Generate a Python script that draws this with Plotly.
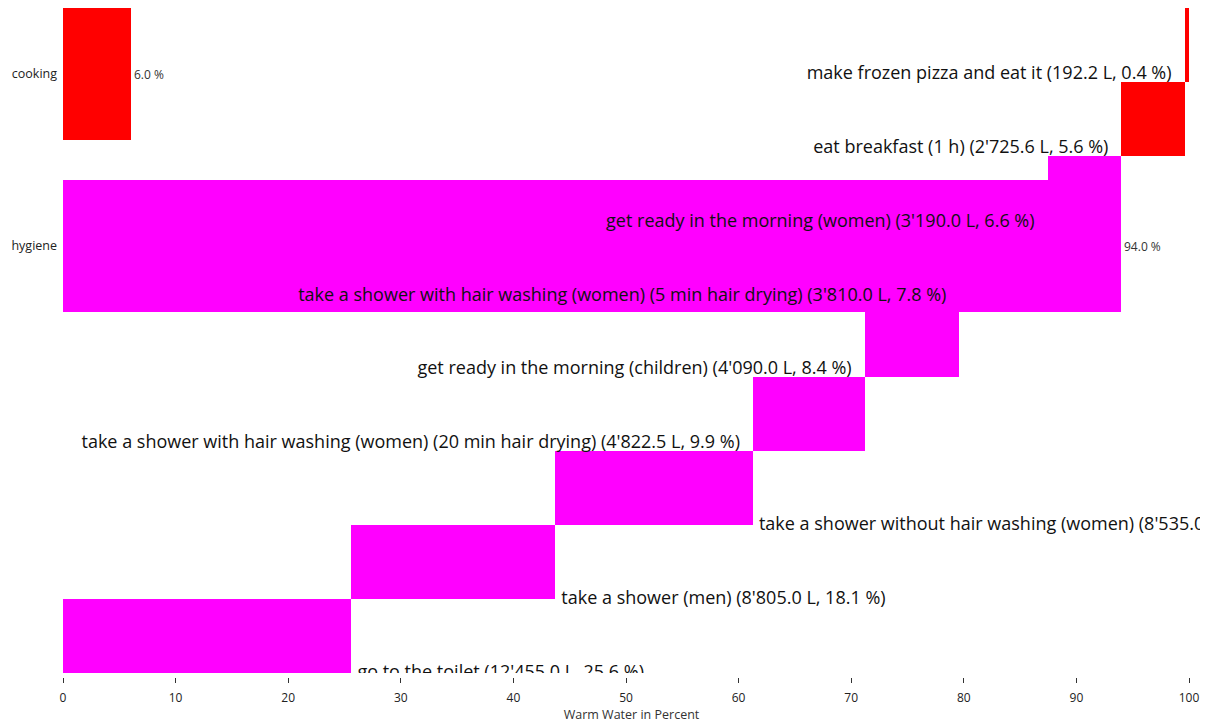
import plotly.graph_objects as go

# ---- data ----
activities = [
    "make frozen pizza and eat it",
    "eat breakfast (1 h)",
    "get ready in the morning (women)",
    "take a shower with hair washing (women) (5 min hair drying)",
    "get ready in the morning (children)",
    "take a shower with hair washing (women) (20 min hair drying)",
    "take a shower without hair washing (women)",
    "take a shower (men)",
    "go to the toilet",
]
activity_group = ["cooking", "cooking", "hygiene", "hygiene", "hygiene",
                  "hygiene", "hygiene", "hygiene", "hygiene"]
liters = [192.2, 2725.6, 3190.0, 3810.0, 4090.0, 4822.5, 8535.0, 8805.0, 12455.0]

groups = ["cooking", "hygiene"]
group_colors = {"cooking": "#ff0000", "hygiene": "#ff00ff"}

# ---- derived ----
total = sum(liters)
pct = [v / total * 100 for v in liters]
n = len(activities)
bases = [0.0] * n
acc = 0.0
for i in range(n - 1, -1, -1):
    bases[i] = acc
    acc += pct[i]
group_pct = [sum(p for p, g in zip(pct, activity_group) if g == grp) for grp in groups]


def fmt_l(v):
    s = f"{v:,.1f}"
    return s.replace(",", "'")


labels = [f"{a} ({fmt_l(v)} L, {p:.1f} %)" for a, v, p in zip(activities, liters, pct)]

FONT = "Open Sans"
# page body has an 8px margin -> figure origin sits at (8, 8) in the window
W, H = 1203, 716
mt, mb, ml, mr = 0, 31, 55, 11
plot_bottom_px = 665
paper_h = H - mt - mb
dom_bottom = (H - mb - plot_bottom_px) / paper_h
axis_pos = (H - mb - 669) / paper_h
px_per_unit = 1126.0 / 100
xmax = (W - mr - ml) / px_per_unit
row_px = (plot_bottom_px - mt) / n

fig = go.Figure()

# group bars (base axis)
fig.add_trace(go.Bar(
    y=list(range(len(groups))), x=group_pct, orientation="h",
    width=0.767,
    marker=dict(color=[group_colors[g] for g in groups], line=dict(width=0)),
    text=[f"{p:.1f} %" for p in group_pct], textposition="outside",
    textfont=dict(family=FONT, size=12, color="#333"),
    cliponaxis=False,
    xaxis="x", yaxis="y", showlegend=False, hoverinfo="skip",
))

# activity bars (overlay axis)
fig.add_trace(go.Bar(
    y=list(range(n)), x=pct, base=bases, orientation="h", width=1.0,
    marker=dict(color=[group_colors[g] for g in activity_group], line=dict(width=0)),
    xaxis="x", yaxis="y2", showlegend=False, hoverinfo="skip",
))

# activity labels
lx, ly, lt, lp = [], [], [], []
for i in range(n):
    if bases[i] > 50:
        lx.append(bases[i] - 13 / px_per_unit); lp.append("top left")
        ly.append(i + 0.5 + 1.5 / row_px)
    else:
        lx.append(bases[i] + pct[i] + 6 / px_per_unit); lp.append("middle right")
        ly.append(i + 0.5)
    lt.append(labels[i])
fig.add_trace(go.Scatter(
    x=lx, y=ly, text=lt, mode="text", textposition=lp,
    textfont=dict(family=FONT, size=18, color="#111"),
    cliponaxis=True, xaxis="x", yaxis="y2", showlegend=False, hoverinfo="skip",
))

ng_span = 665 / 172.0
fig.update_layout(
    width=W, height=H,
    margin=dict(t=mt, b=mb, l=ml, r=mr, autoexpand=False),
    plot_bgcolor="white", paper_bgcolor="white",
    bargap=0,
    xaxis=dict(
        range=[0, xmax], tickvals=[0, 10, 20, 30, 40, 50, 60, 70, 80, 90, 100],
        showgrid=False, zeroline=False, showline=False,
        ticks="outside", ticklen=5, tickwidth=1, tickcolor="#333",
        tickfont=dict(family=FONT, size=12, color="#222"),
        ticklabelstandoff=5,
        anchor="free", position=axis_pos,
        title=dict(text="Warm Water in Percent", standoff=4,
                   font=dict(family=FONT, size=12.5, color="#333")),
    ),
    yaxis=dict(
        domain=[dom_bottom, 1],
        range=[-0.3835 + ng_span, -0.3835],
        tickvals=list(range(len(groups))), ticktext=groups,
        showgrid=False, zeroline=False, showline=False, ticks="",
        ticklabelstandoff=5,
        tickfont=dict(family=FONT, size=12.5, color="#222"),
    ),
    yaxis2=dict(
        domain=[dom_bottom, 1], overlaying="y", side="right",
        range=[n - 0.5, -0.5], showticklabels=False,
        showgrid=False, zeroline=False, showline=False, ticks="",
    ),
)

fig.write_html("out.html")
